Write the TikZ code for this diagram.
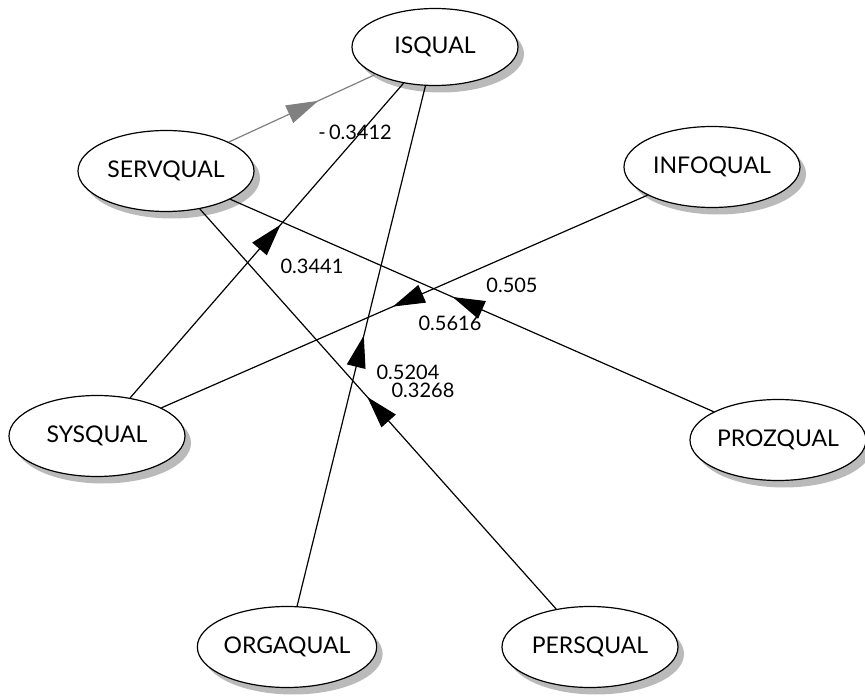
\documentclass[tikz,border=0pt]{standalone}
\usepackage{fontspec}
\setmainfont{Lato}
\usetikzlibrary{shapes.geometric,shadows,decorations.markings,arrows.meta}

\begin{document}
\begin{tikzpicture}[x=1pt,y=-1pt,
  construct/.style={ellipse, draw, line width=1.2pt, fill=white,
    minimum width=176pt, minimum height=81pt, inner sep=0pt,
    font=\fontsize{23}{27}\selectfont,
    drop shadow={shadow xshift=6pt, shadow yshift=-7pt, fill=black!27, opacity=1}},
  link/.style={line width=1.2pt, postaction={decorate},
    decoration={markings, mark=at position #1 with {\arrow{Triangle[length=32pt,width=19pt]}}}},
  coef/.style={font=\fontsize{20}{23}\selectfont, inner sep=0pt}
]
\useasboundingbox (0,0) rectangle (865,700);

% constructs
\node[construct, minimum width=166pt, minimum height=77pt] (isq) at (435,47) {ISQUAL};
\node[construct] (serv) at (166,171) {SERVQUAL};
\node[construct] (info) at (712,167) {INFOQUAL};
\node[construct] (sys)  at (97,436)  {SYSQUAL};
\node[construct] (proz) at (778,440) {PROZQUAL};
\node[construct] (orga) at (287,647) {ORGAQUAL};
\node[construct] (pers) at (590,647) {PERSQUAL};

% paths
\draw[link=0.61, gray] (serv) -- (isq);
\draw[link=0.55] (sys) -- (isq);
\draw[link=0.524] (info) -- (sys);
\draw[link=0.54] (proz) -- (serv);
\draw[link=0.52] (orga) -- (isq);
\draw[link=0.53] (pers) -- (serv);

% path coefficients
\node[coef] (c1) at (355,132) {-\,0.3412};
\node[coef] (c2) at (312,266) {0.3441};
\node[coef] (c3) at (512,285) {0.505};
\node[coef] (c4) at (450,323) {0.5616};
\node[coef] (c5) at (408,372) {0.5204};
\node[coef] (c6) at (423,390) {0.3268};
\end{tikzpicture}
\end{document}
